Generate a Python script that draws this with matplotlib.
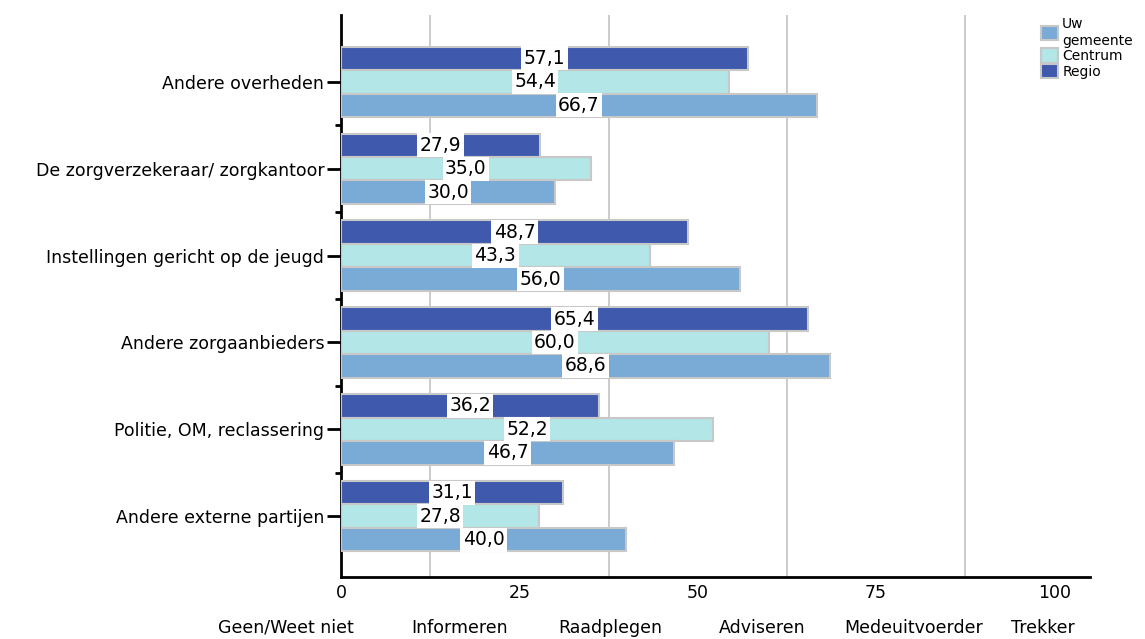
import matplotlib.pyplot as plt
import numpy as np
from matplotlib.patches import Patch

plt.rcParams['font.family'] = ['DejaVu Sans']

categories = ["Andere overheden", "De zorgverzekeraar/ zorgkantoor",
              "Instellingen gericht op de jeugd", "Andere zorgaanbieders",
              "Politie, OM, reclassering", "Andere externe partijen"]
regio = [57.1, 27.9, 48.7, 65.4, 36.2, 31.1]
centrum = [54.4, 35.0, 43.3, 60.0, 52.2, 27.8]
uw_gemeente = [66.7, 30.0, 56.0, 68.6, 46.7, 40.0]

x_ticks = [0, 25, 50, 75, 100]
niveau_labels = ["Geen/Weet niet", "Informeren", "Raadplegen", "Adviseren",
                 "Medeuitvoerder", "Trekker"]
niveau_x = [286, 460, 610, 762, 914, 1043]  # pixel positions of the bottom row

colors = {"Regio": "#3f5aad", "Centrum": "#b3e6e6", "Uw gemeente": "#7aaad6"}
edge = "#c8c8c8"

fig = plt.figure(figsize=(11.45, 6.39), dpi=100)
ax = fig.add_axes([341 / 1145, 1 - 577 / 639, (1090 - 341) / 1145, (577 - 15) / 639])

y = np.arange(len(categories))
h = 0.27
series = [("Regio", regio, -h), ("Centrum", centrum, 0), ("Uw gemeente", uw_gemeente, h)]
for name, vals, off in series:
    bars = ax.barh(y + off, vals, height=h, color=colors[name], edgecolor=edge,
                   linewidth=1.5, zorder=3)
    for b, v in zip(bars, vals):
        ax.text(v / 2, b.get_y() + b.get_height() / 2, f"{v:.1f}".replace(".", ","),
                ha="center", va="center", fontsize=13.5, zorder=4,
                bbox=dict(facecolor="white", edgecolor="none", pad=1.8))

ax.set_xlim(0, 105)
ax.set_ylim(len(categories) - 0.3, -0.77)
ax.set_yticks(y)
ax.set_yticklabels(categories, fontsize=12.5)
ax.set_yticks(y[:-1] + 0.5, minor=True)
ax.tick_params(axis="y", which="major", length=10, width=2, pad=2)
ax.tick_params(axis="y", which="minor", length=4, width=2)

ax.set_xticks(x_ticks)
ax.set_xticklabels([str(t) for t in x_ticks], fontsize=12.5)
ax.set_xticks([12.5, 37.5, 62.5, 87.5], minor=True)
ax.tick_params(axis="x", which="both", length=0, pad=5)
ax.grid(axis="x", which="minor", color="#c8c8c8", linewidth=1.3, zorder=0)

for s in ["top", "right"]:
    ax.spines[s].set_visible(False)
ax.spines["left"].set_linewidth(2)
ax.spines["bottom"].set_linewidth(2)

for lab, px in zip(niveau_labels, niveau_x):
    fig.text(px / 1145, 1 - 628 / 639, lab, ha="center", va="center", fontsize=12.5)

handles = [Patch(facecolor=colors[n], edgecolor=edge, linewidth=1.5) for n in ["Uw gemeente", "Centrum", "Regio"]]
fig.legend(handles, ["Uw\ngemeente", "Centrum", "Regio"], loc="upper left",
           bbox_to_anchor=(1040 / 1145, 1 - 16 / 639), frameon=False, fontsize=10,
           handlelength=1.2, handleheight=1.2, handletextpad=0.3, labelspacing=0.05,
           borderaxespad=0, borderpad=0.1)

fig.savefig("out.png", dpi=100)
